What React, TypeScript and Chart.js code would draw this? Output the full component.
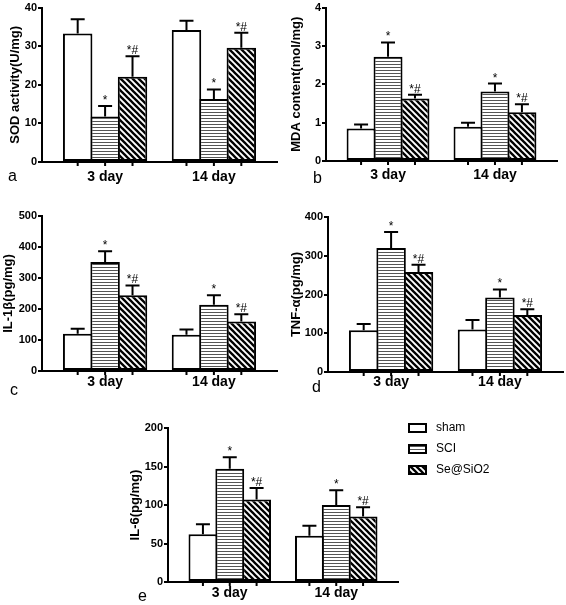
import React, { useEffect, useRef } from "react";
import { Chart, registerables } from "chart.js";
Chart.register(...registerables);

const FONT = "'Liberation Sans', Arial, Helvetica, sans-serif";

// ---- data ----
const groups = ["3 day", "14 day"];
const seriesNames = ["sham", "SCI", "Se@SiO2"];

const sodSham = [33.3, 34.2];
const sodShamErr = [3.7, 2.4];
const sodSCI = [11.8, 16.3];
const sodSCIErr = [2.7, 2.5];
const sodSe = [22.1, 29.6];
const sodSeErr = [5.3, 3.9];

const mdaSham = [0.85, 0.89];
const mdaShamErr = [0.1, 0.11];
const mdaSCI = [2.72, 1.81];
const mdaSCIErr = [0.37, 0.21];
const mdaSe = [1.63, 1.27];
const mdaSeErr = [0.1, 0.21];

const il1Sham = [120, 117];
const il1ShamErr = [16, 17];
const il1SCI = [352, 214];
const il1SCIErr = [34, 30];
const il1Se = [244, 160];
const il1SeErr = [32, 23];

const tnfSham = [108, 110];
const tnfShamErr = [16, 24];
const tnfSCI = [320, 192];
const tnfSCIErr = [41, 21];
const tnfSe = [258, 147];
const tnfSeErr = [19, 15];

const il6Sham = [62, 60];
const il6ShamErr = [13, 13];
const il6SCI = [147, 100];
const il6SCIErr = [15, 19];
const il6Se = [107, 85];
const il6SeErr = [15, 12];

const sigSham = ["", ""];
const sigSCI = ["*", "*"];
const sigSe = ["*#", "*#"];

const yTitles = ["SOD activity(U/mg)", "MDA content(mol/mg)", "IL-1β(pg/mg)", "TNF-α(pg/mg)", "IL-6(pg/mg)"];
const yMax = [40, 4, 500, 400, 200];
const yStep = [10, 1, 100, 100, 50];
const letters = ["a", "b", "c", "d", "e"];

// ---- layout (positions only) ----
const layouts = [
  { box: { left: 0, top: 0, w: 280, h: 200 }, plot: { l: 42, t: 7, r: 277, b: 162 }, titleX: 15, tickPad: 7, letter: { x: 8, y: 181 } },
  { box: { left: 280, top: 0, w: 286, h: 200 }, plot: { l: 326, t: 7, r: 557, b: 161 }, titleX: 16.5, tickPad: 6, letter: { x: 33, y: 183 } },
  { box: { left: 0, top: 200, w: 280, h: 200 }, plot: { l: 42, t: 216, r: 277, b: 371 }, titleX: 8.5, tickPad: 3, letter: { x: 10, y: 195 } },
  { box: { left: 280, top: 200, w: 286, h: 200 }, plot: { l: 328, t: 217, r: 563, b: 372 }, titleX: 16, tickPad: 2, letter: { x: 32, y: 192 } },
  { box: { left: 110, top: 400, w: 456, h: 205 }, plot: { l: 168, t: 428, r: 398, b: 582 }, titleX: 25, tickPad: 3, letter: { x: 28, y: 201 }, legend: { x: 299, y: 24 } },
];

const panelSeries = [
  [[sodSham, sodShamErr], [sodSCI, sodSCIErr], [sodSe, sodSeErr]],
  [[mdaSham, mdaShamErr], [mdaSCI, mdaSCIErr], [mdaSe, mdaSeErr]],
  [[il1Sham, il1ShamErr], [il1SCI, il1SCIErr], [il1Se, il1SeErr]],
  [[tnfSham, tnfShamErr], [tnfSCI, tnfSCIErr], [tnfSe, tnfSeErr]],
  [[il6Sham, il6ShamErr], [il6SCI, il6SCIErr], [il6Se, il6SeErr]],
];
const sigs = [sigSham, sigSCI, sigSe];

function makePatterns() {
  const h = document.createElement("canvas");
  h.width = 4;
  h.height = 3;
  const hc = h.getContext("2d")!;
  hc.fillStyle = "#fff";
  hc.fillRect(0, 0, 4, 3);
  hc.fillStyle = "#555";
  hc.fillRect(0, 1, 4, 1);

  const s = 6;
  const d = document.createElement("canvas");
  d.width = s;
  d.height = s;
  const dc = d.getContext("2d")!;
  dc.fillStyle = "#fff";
  dc.fillRect(0, 0, s, s);
  dc.strokeStyle = "#000";
  dc.lineWidth = 2.3;
  for (const k of [-s, 0, s]) {
    dc.beginPath();
    dc.moveTo(-1, k - 1);
    dc.lineTo(s + 1, k + s + 1);
    dc.stroke();
  }
  const ctx = document.createElement("canvas").getContext("2d")!;
  return ["#ffffff", ctx.createPattern(h, "repeat")!, ctx.createPattern(d, "repeat")!];
}

const overlayPlugin = {
  id: "overlay",
  afterLayout(chart: any) {
    // place the two group centres 0.58 and 1.58 "units" from the axis start, as in the figure
    const s = chart.scales.x;
    const unit = (s.right - s.left) / 2.16;
    s._startPixel = s.left + 0.08 * unit;
    s._length = unit * 2;
    s._endPixel = s._startPixel + s._length;
  },
  afterDatasetsDraw(chart: any) {
    const ctx = chart.ctx;
    const y = chart.scales.y;
    const axisY = chart.chartArea.bottom;
    chart.data.datasets.forEach((ds: any, di: number) => {
      const meta = chart.getDatasetMeta(di);
      meta.data.forEach((el: any, i: number) => {
        const v = ds.data[i];
        const top = y.getPixelForValue(v + ds.errors[i]);
        ctx.save();
        ctx.strokeStyle = "#000";
        ctx.lineWidth = 2;
        ctx.beginPath();
        ctx.moveTo(el.x, el.y);
        ctx.lineTo(el.x, top);
        ctx.moveTo(el.x - 7, top);
        ctx.lineTo(el.x + 7, top);
        ctx.moveTo(el.x, axisY);
        ctx.lineTo(el.x, axisY + 4);
        ctx.stroke();
        const s = ds.sig[i];
        if (s) {
          ctx.fillStyle = "#000";
          ctx.font = `12px ${FONT}`;
          ctx.textAlign = "center";
          ctx.textBaseline = "alphabetic";
          ctx.fillText(s, el.x, top - 2);
        }
        ctx.restore();
      });
    });
  },
  afterDraw(chart: any, _args: any, opts: any) {
    const ctx = chart.ctx;
    ctx.save();
    ctx.fillStyle = "#000";
    ctx.font = `16px ${FONT}`;
    ctx.textAlign = "left";
    ctx.textBaseline = "alphabetic";
    ctx.fillText(opts.letter, opts.lx, opts.ly);
    if (opts.legend) {
      chart.data.datasets.forEach((ds: any, i: number) => {
        const bx = opts.legend.x;
        const by = opts.legend.y + i * 21;
        ctx.fillStyle = ds.backgroundColor;
        ctx.fillRect(bx, by, 17, 8);
        ctx.strokeStyle = "#000";
        ctx.lineWidth = 2;
        ctx.strokeRect(bx, by, 17, 8);
        ctx.fillStyle = "#000";
        ctx.font = `12px ${FONT}`;
        ctx.textBaseline = "middle";
        ctx.fillText(ds.label, bx + 27, by + 4);
      });
    }
    ctx.restore();
  },
};

function Panel({ idx }: { idx: number }) {
  const ref = useRef<HTMLCanvasElement>(null);
  const L = layouts[idx];
  useEffect(() => {
    const pats = makePatterns();
    const yW = L.plot.l - L.box.left;
    const xH = L.box.top + L.box.h - L.plot.b;
    const chart = new Chart(ref.current!, {
      type: "bar",
      data: {
        labels: groups,
        datasets: panelSeries[idx].map((s, k) => ({
          label: seriesNames[k],
          data: s[0],
          errors: s[1],
          sig: sigs[k],
          backgroundColor: pats[k],
          borderColor: "#000",
          borderWidth: 2,
          borderSkipped: false,
          barPercentage: 1.075,
          categoryPercentage: 0.756,
        })) as any,
      },
      options: {
        responsive: false,
        animation: false,
        devicePixelRatio: 1,
        events: [],
        layout: {
          padding: { left: 0, top: L.plot.t - L.box.top, right: L.box.left + L.box.w - L.plot.r, bottom: 0 },
        },
        plugins: {
          legend: { display: false },
          tooltip: { enabled: false },
          overlay: { letter: letters[idx], lx: L.letter.x, ly: L.letter.y, legend: L.legend },
        } as any,
        scales: {
          x: {
            type: "category",
            offset: true,
            grid: { display: false, drawTicks: false, tickLength: 0 },
            border: { display: true, color: "#000", width: 2 },
            ticks: {
              autoSkip: false,
              maxRotation: 0,
              padding: L.tickPad,
              color: "#000",
              font: { family: FONT, size: 14, weight: "bold" },
            },
            afterFit: (s: any) => {
              s.height = xH;
            },
          },
          y: {
            min: 0,
            max: yMax[idx],
            grid: { display: true, drawOnChartArea: false, drawTicks: true, tickLength: 4, color: "#000", lineWidth: 2 },
            border: { display: true, color: "#000", width: 2 },
            ticks: {
              stepSize: yStep[idx],
              padding: 1,
              color: "#000",
              font: { family: FONT, size: 11, weight: "bold" },
            },
            title: {
              display: true,
              text: yTitles[idx],
              color: "#000",
              font: { family: FONT, size: 13, weight: "bold" },
              padding: { top: L.titleX - 7.8, bottom: 0 },
            },
            afterFit: (s: any) => {
              s.width = yW;
            },
          },
        },
      } as any,
      plugins: [overlayPlugin as any],
    });
    return () => chart.destroy();
  }, []);
  return (
    <canvas
      ref={ref}
      width={L.box.w}
      height={L.box.h}
      style={{ position: "absolute", left: L.box.left, top: L.box.top, width: L.box.w, height: L.box.h }}
    />
  );
}

export default function App() {
  return (
    <div style={{ position: "absolute", left: 0, top: 0, width: 566, height: 605, background: "#fff", overflow: "hidden" }}>
      {layouts.map((_, i) => (
        <Panel key={i} idx={i} />
      ))}
    </div>
  );
}
